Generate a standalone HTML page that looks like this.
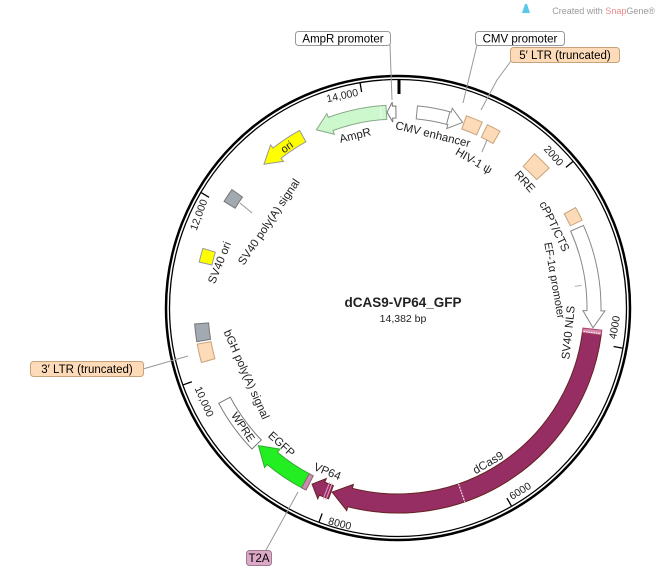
<!DOCTYPE html>
<html><head><meta charset="utf-8"><style>
html,body{margin:0;padding:0;background:#fff;}
svg{display:block;font-family:"Liberation Sans","DejaVu Sans",sans-serif;}
</style></head><body>
<svg id="s" width="660" height="576" viewBox="0 0 660 576" xmlns="http://www.w3.org/2000/svg">
<g id="shapes"></g>
<circle cx="398" cy="308" r="232" fill="none" stroke="#000" stroke-width="2.5"/>
<circle cx="398" cy="308" r="228.5" fill="none" stroke="#000" stroke-width="1.3"/>
<line x1="399" y1="79" x2="399" y2="94" stroke="#000" stroke-width="3"/>
<g id="ticks" stroke="#000" stroke-width="1.3"></g>

<g stroke="#999" stroke-width="1" fill="none">
<polyline points="390,45 392,100"/>
<polyline points="477,45 463,103"/>
<polyline points="511,61 497,80 481,110"/>
<polyline points="143,369 188,356"/>
<polyline points="266,550 298,492"/>
<polyline points="487,140 482,152"/>
<polyline points="240,203 252,213"/>
</g>

<g font-size="11.5">
<rect x="295.5" y="31.5" width="95" height="14" rx="3" fill="#fff" stroke="#999"/>
<text x="343" y="42.5" text-anchor="middle">AmpR promoter</text>
<rect x="475.5" y="31.5" width="89" height="14" rx="3" fill="#fff" stroke="#999"/>
<text x="520" y="42.5" text-anchor="middle">CMV promoter</text>
<rect x="510.5" y="47.5" width="109" height="15" rx="3" fill="#fddbb8" stroke="#c9a27a"/>
<text x="565" y="59" text-anchor="middle">5′ LTR (truncated)</text>
<rect x="30.5" y="361.5" width="113" height="15" rx="3" fill="#fddbb8" stroke="#c9a27a"/>
<text x="87" y="373" text-anchor="middle">3′ LTR (truncated)</text>
<rect x="246.5" y="550.5" width="25" height="15" rx="3" fill="#dcaac6" stroke="#a07890"/>
<text x="259" y="562" text-anchor="middle">T2A</text>
</g>

<text x="655" y="14" font-size="9" fill="#999" text-anchor="end">Created with <tspan fill="#e88">Snap</tspan>Gene®</text>
<path d="M522 13 L525 4 L527 4 L530 13 Z" fill="#5bc8e8"/>

<text x="403" y="307" font-size="13.5" font-weight="bold" text-anchor="middle" fill="#222">dCAS9-VP64_GFP</text>
<text x="403" y="322" font-size="10.5" text-anchor="middle" fill="#222">14,382 bp</text>

<g font-size="11.5" fill="#222" text-anchor="middle">
<text transform="translate(356,139) rotate(-14)">AmpR</text>
<text transform="translate(432,138) rotate(14)">CMV enhancer</text>
<text transform="translate(472,164) rotate(30)">HIV-1 ψ</text>
<text transform="translate(522,184) rotate(48)">RRE</text>
<text transform="translate(551,228) rotate(64)">cPPT/CTS</text>
<text transform="translate(551,281) rotate(80)" font-size="11">EF-1α promoter</text>
<text transform="translate(572,333) rotate(-84)">SV40 NLS</text>
<text transform="translate(490,466) rotate(-30)">dCas9</text>
<text transform="translate(326,475) rotate(22)">VP64</text>
<text transform="translate(279,447) rotate(42)">EGFP</text>
<text transform="translate(243,376) rotate(66)">bGH poly(A) signal</text>
<text transform="translate(272,224) rotate(-56)">SV40 poly(A) signal</text>
<text transform="translate(223,264) rotate(-68)">SV40 ori</text>
<text transform="translate(240,429) rotate(56)" font-size="11">WPRE</text>
<text transform="translate(289,150) rotate(-36)" font-size="11">ori</text>
</g>
<g font-size="10.5" fill="#222" text-anchor="middle">
<text transform="translate(343,99) rotate(-12)">14,000</text>
<text transform="translate(551,158) rotate(48)">2000</text>
<text transform="translate(618,328) rotate(-80)">4000</text>
<text transform="translate(522,494) rotate(-32)">6000</text>
<text transform="translate(339,527) rotate(14)">8000</text>
<text transform="translate(201,403) rotate(66)">10,000</text>
<text transform="translate(202,216) rotate(-70)">12,000</text>
</g>
</svg>
<script>
(function(){
var cx=398,cy=308,NS="http://www.w3.org/2000/svg";
function p(a,r){var t=a*Math.PI/180;return (cx+r*Math.sin(t)).toFixed(2)+" "+(cy-r*Math.cos(t)).toFixed(2);}
function lg(a,b){return Math.abs(b-a)>180?1:0;}
var g=document.getElementById("shapes");
function add(d,fill,stroke,sw){var e=document.createElementNS(NS,"path");e.setAttribute("d",d);e.setAttribute("fill",fill);e.setAttribute("stroke",stroke||"#888");e.setAttribute("stroke-width",sw||1);g.appendChild(e);return e;}
function box(a1,a2,ri,ro,fill,stroke){
 return add("M"+p(a1,ro)+" A"+ro+" "+ro+" 0 "+lg(a1,a2)+" 1 "+p(a2,ro)+" L"+p(a2,ri)+" A"+ri+" "+ri+" 0 "+lg(a1,a2)+" 0 "+p(a1,ri)+" Z",fill,stroke);}
function arrow(a1,a2,ri,ro,h,dir,fill,stroke){
 var rm=(ri+ro)/2,e=4,d;
 if(dir>0){var b=a2-h;
  d="M"+p(a1,ro)+" A"+ro+" "+ro+" 0 "+lg(a1,b)+" 1 "+p(b,ro)+" L"+p(b,ro+e)+" L"+p(a2,rm)+" L"+p(b,ri-e)+" L"+p(b,ri)+" A"+ri+" "+ri+" 0 "+lg(a1,b)+" 0 "+p(a1,ri)+" Z";
 } else {var b=a1+h;
  d="M"+p(a2,ro)+" A"+ro+" "+ro+" 0 "+lg(b,a2)+" 0 "+p(b,ro)+" L"+p(b,ro+e)+" L"+p(a1,rm)+" L"+p(b,ri-e)+" L"+p(b,ri)+" A"+ri+" "+ri+" 0 "+lg(b,a2)+" 1 "+p(a2,ri)+" Z";}
 return add(d,fill,stroke);}
function line(a,r1,r2,col,w,dash){var e=document.createElementNS(NS,"path");e.setAttribute("d","M"+p(a,r1)+" L"+p(a,r2));e.setAttribute("stroke",col);e.setAttribute("stroke-width",w||1);if(dash)e.setAttribute("stroke-dasharray",dash);g.appendChild(e);}
var peach="#fddbb8",pst="#c9a27a",pur="#962e63";
arrow(-3.2,-0.6,190,202,1.6,-1,"#fff","#777");
arrow(-24.6,-3.4,189,203,4.5,-1,"#cdf7cd","#8a8");
line(-5,190,202,"#fff",1,"2,1");
arrow(-43,-29,190,203,5,-1,"#ffff00","#999");
box(-58.5,-54.5,191,204,"#a3a9b0","#777");
box(-77,-73,191,204,"#ffff00","#999");
box(-99.5,-94.5,190,204,"#a3a9b0","#777");
box(-105.5,-100.2,190,204,peach,pst);
box(-134,-118,190,203,"#fff","#777");
arrow(-152,-134.6,188,204,5.5,1,"#22ee22","#3a3");
box(-153.2,-151.8,188,204,"#c98cb2","#866");
arrow(-160,-154,189,203,3.2,1,pur,"#622");
line(-159.4,187,205,"#e6a0c8",1);line(-158.6,187,205,"#e6a0c8",1);
arrow(97.6,199.7,186,205,5.5,1,pur,"#622");
line(161,186,205,"#fff",1,"2,1");
box(96.2,97.6,186,205,"#d68ab0","#a46");
line(97.2,187,204,"#fff",1,"1.5,1");
arrow(66,95.8,189,203,5,1,"#fff","#888");
line(83,178,185,"#aaa",1);
box(60.5,64.5,191,204,peach,pst);
box(41.5,47.2,189,206,peach,pst);
box(26,30,190,204,peach,pst);
box(19.6,24.4,190,204,peach,pst);
arrow(5.5,19.2,190,203,4,1,"#fff","#888");
line(14.8,190,203,"#888",1);
var t=document.getElementById("ticks");
[2000,4000,6000,8000,10000,12000,14000].forEach(function(b){var a=b/14382*360;var e=document.createElementNS(NS,"path");e.setAttribute("d","M"+p(a,228)+" L"+p(a,219));t.appendChild(e);});
})();
</script>
</body></html>
